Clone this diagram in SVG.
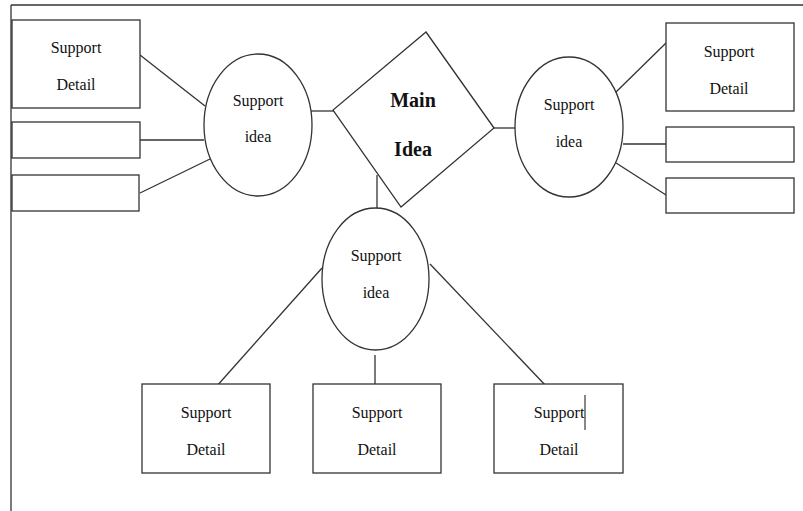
<svg xmlns="http://www.w3.org/2000/svg" width="803" height="511" viewBox="0 0 803 511">
<style>
.s{fill:#fff;stroke:#333;stroke-width:1.3}
.c line{stroke:#333;stroke-width:1.3}
text{font-family:"Liberation Serif","Times New Roman",serif;font-size:16px;fill:#111;text-anchor:middle}
.b{font-weight:bold;font-size:20px}
</style>
<rect width="803" height="511" fill="#fff"/>
<g id="frame"><line x1="11" y1="5" x2="803" y2="5" stroke="#333" stroke-width="1.3"/><line x1="11" y1="5" x2="11" y2="511" stroke="#333" stroke-width="1.3"/></g>
<g class="c" id="connectors">
<line x1="140" y1="55" x2="205" y2="106"/>
<line x1="140" y1="140" x2="204" y2="140"/>
<line x1="140" y1="193" x2="210" y2="159"/>
<line x1="311" y1="111" x2="334" y2="111"/>
<line x1="494" y1="128" x2="516" y2="128"/>
<line x1="377" y1="175" x2="377" y2="212"/>
<line x1="615" y1="93" x2="666" y2="43"/>
<line x1="623" y1="144" x2="666" y2="144"/>
<line x1="613" y1="161" x2="666" y2="195"/>
<line x1="322" y1="268" x2="216" y2="387"/>
<line x1="375" y1="355" x2="375" y2="392"/>
<line x1="430" y1="264" x2="547" y2="387"/>
</g>
<g id="ld1"><rect class="s" x="12" y="20" width="128" height="88"/><text x="76" y="53">Support</text><text x="76" y="90">Detail</text></g>
<g id="ld2"><rect class="s" x="12" y="122" width="128" height="36"/></g>
<g id="ld3"><rect class="s" x="12" y="175" width="127" height="36"/></g>
<g id="lidea"><ellipse class="s" cx="258" cy="125" rx="54" ry="71"/><text x="258" y="106">Support</text><text x="258" y="142">idea</text></g>
<g id="main"><polygon class="s" points="426,32 494,128 401,207 333,110"/><text class="b" x="413" y="107">Main</text><text class="b" x="413" y="156">Idea</text></g>
<g id="ridea"><ellipse class="s" cx="569" cy="127" rx="54" ry="70"/><text x="569" y="110">Support</text><text x="569" y="147">idea</text></g>
<g id="rd1"><rect class="s" x="666" y="23" width="128" height="88"/><text x="729" y="57">Support</text><text x="729" y="94">Detail</text></g>
<g id="rd2"><rect class="s" x="666" y="127" width="128" height="35"/></g>
<g id="rd3"><rect class="s" x="666" y="178" width="128" height="35"/></g>
<g id="bidea"><ellipse class="s" cx="375.5" cy="279" rx="53.5" ry="71"/><text x="376" y="261">Support</text><text x="376" y="298">idea</text></g>
<g id="bd1"><rect class="s" x="142" y="384" width="128" height="89"/><text x="206" y="418">Support</text><text x="206" y="455">Detail</text></g>
<g id="bd2"><rect class="s" x="313" y="384" width="128" height="89"/><text x="377" y="418">Support</text><text x="377" y="455">Detail</text></g>
<g id="bd3"><rect class="s" x="494" y="384" width="129" height="89"/><text x="559" y="418">Support</text><text x="559" y="455">Detail</text><line x1="585" y1="395" x2="585" y2="430" stroke="#111" stroke-width="1"/></g>
</svg>
